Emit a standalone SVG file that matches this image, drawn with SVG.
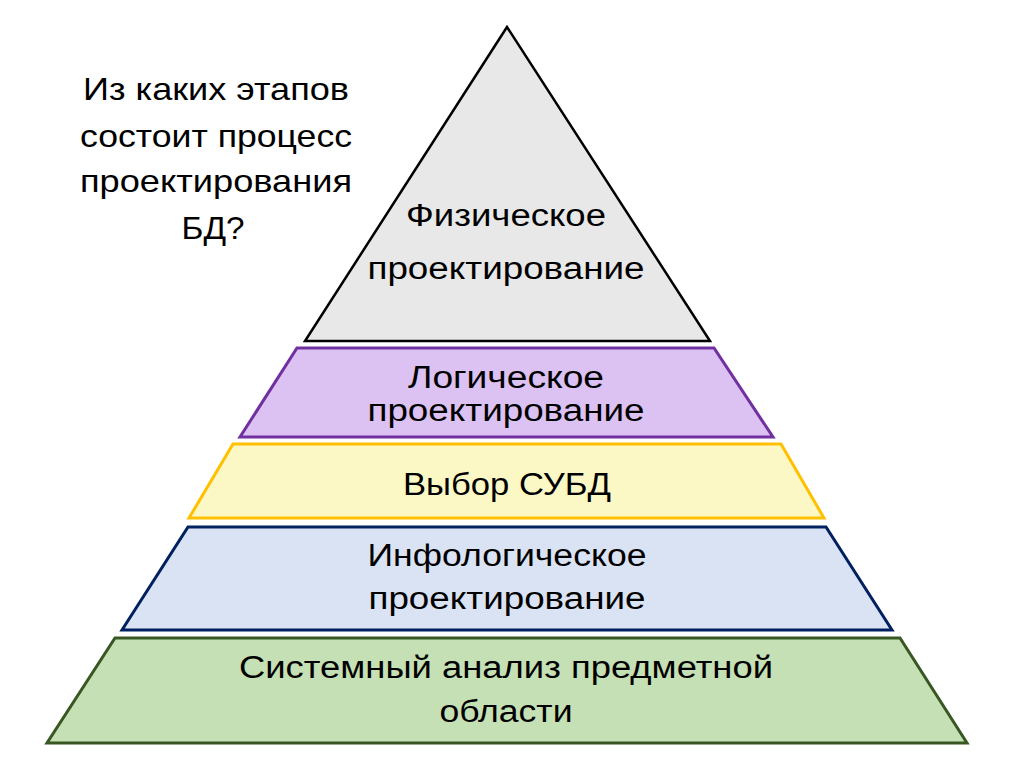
<svg xmlns="http://www.w3.org/2000/svg" width="1024" height="767" viewBox="0 0 1024 767">
<style>
text{font-family:"Liberation Sans",Arial,sans-serif;fill:#000;}
.q{font-size:32px;text-anchor:middle;}
.t{font-size:31px;text-anchor:middle;}
.s{stroke-width:3;stroke-linejoin:miter;}
</style>
<rect width="1024" height="767" fill="#fff"/>
<g id="question">
<text class="q" x="216" y="100" textLength="266" lengthAdjust="spacingAndGlyphs">Из каких этапов</text>
<text class="q" x="216" y="147" textLength="272" lengthAdjust="spacingAndGlyphs">состоит процесс</text>
<text class="q" x="216" y="192" textLength="272" lengthAdjust="spacingAndGlyphs">проектирования</text>
<text class="q" x="213" y="239" textLength="63" lengthAdjust="spacingAndGlyphs">БД?</text>
</g>
<g id="physical">
<polygon points="507,27 305,341 710,341" fill="#e8e8e8" stroke="#000" stroke-width="2.5" stroke-linejoin="miter"/>
<text class="t" x="506" y="226" textLength="200" lengthAdjust="spacingAndGlyphs">Физическое</text>
<text class="t" x="506" y="279" textLength="277" lengthAdjust="spacingAndGlyphs">проектирование</text>
</g>
<g id="logical">
<polygon class="s" points="297,348 714,348 773,437 240,437" fill="#dcc2f2" stroke="#7030a0"/>
<text class="t" x="506" y="388" textLength="196" lengthAdjust="spacingAndGlyphs">Логическое</text>
<text class="t" x="506" y="421" textLength="277" lengthAdjust="spacingAndGlyphs">проектирование</text>
</g>
<g id="dbms">
<polygon class="s" points="233,444 781,444 824,518 189,518" fill="#fbf8c6" stroke="#ffc000"/>
<text class="t" x="507" y="495" textLength="208" lengthAdjust="spacingAndGlyphs">Выбор СУБД</text>
</g>
<g id="infological">
<polygon class="s" points="188,527 826,527 892,630 122,630" fill="#dae3f3" stroke="#002060"/>
<text class="t" x="507" y="566" textLength="279" lengthAdjust="spacingAndGlyphs">Инфологическое</text>
<text class="t" x="507" y="609" textLength="277" lengthAdjust="spacingAndGlyphs">проектирование</text>
</g>
<g id="analysis">
<polygon class="s" points="115,638 900,638 967,743 47,743" fill="#c5e0b4" stroke="#385723"/>
<text class="t" x="506" y="678" textLength="534" lengthAdjust="spacingAndGlyphs">Системный анализ предметной</text>
<text class="t" x="506" y="722" textLength="133" lengthAdjust="spacingAndGlyphs">области</text>
</g>
<g id="connectors"/>
</svg>
